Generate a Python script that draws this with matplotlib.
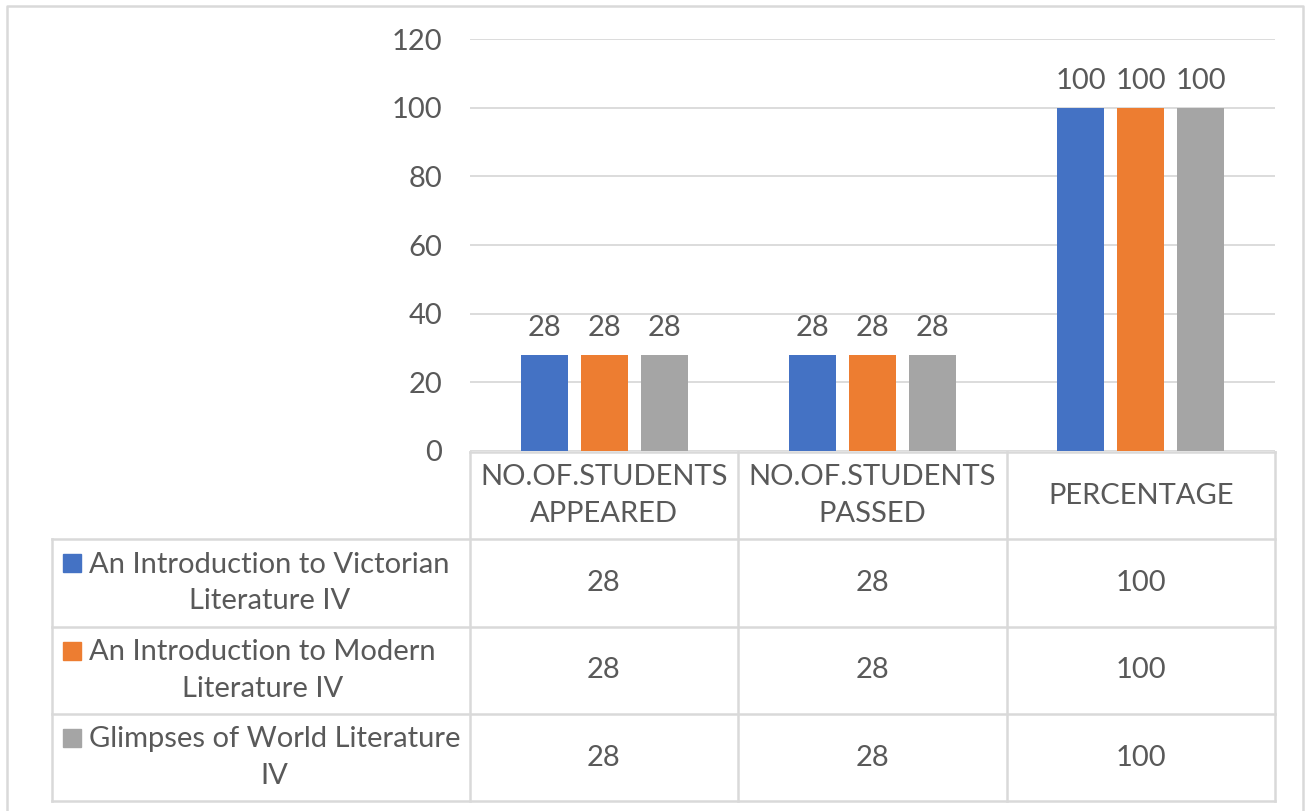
import numpy as np
import matplotlib
matplotlib.use('Agg')
import matplotlib.pyplot as plt
from matplotlib.patches import Rectangle

plt.rcParams['font.family'] = ['Lato', 'DejaVu Sans']

# data
categories = ['NO.OF.STUDENTS\nAPPEARED', 'NO.OF.STUDENTS\nPASSED', 'PERCENTAGE']
series_names = ['An Introduction to Victorian\nLiterature IV',
                'An Introduction to Modern\nLiterature IV',
                'Glimpses of World Literature\nIV']
victorian = [28, 28, 100]
modern = [28, 28, 100]
world = [28, 28, 100]
yticks = [0, 20, 40, 60, 80, 100, 120]

series = [victorian, modern, world]
colors = ['#4472C4', '#ED7D31', '#A5A5A5']
txt = '#595959'
grid = '#D9D9D9'
fs = 21

W, H = 1305, 811
fig = plt.figure(figsize=(W / 100, H / 100), dpi=100)

# plot area (pixel layout)
L, R, T, B = 470, 1275, 39, 451
ax = fig.add_axes([L / W, 1 - B / H, (R - L) / W, (B - T) / H])
x = np.arange(len(categories))
bw = 0.175
step = 0.224
for i, vals in enumerate(series):
    pos = x + (i - 1) * step
    ax.bar(pos, vals, width=bw, color=colors[i], zorder=3)
    for p, v in zip(pos, vals):
        ax.annotate(str(v), (p, v), xytext=(0, 10), textcoords='offset points',
                    ha='center', va='bottom', fontsize=fs, color=txt)
ax.set_xlim(-0.5, len(categories) - 0.5)
ax.set_ylim(0, 120)
ax.set_yticks(yticks)
ax.set_xticks([])
ax.yaxis.grid(True, color=grid, linewidth=1.3, zorder=0)
ax.tick_params(axis='y', length=0, pad=20, labelsize=fs, labelcolor=txt)
for s in ax.spines.values():
    s.set_visible(False)

# overlay for data table + frame
ov = fig.add_axes([0, 0, 1, 1], zorder=-1)
ov.set_xlim(0, W)
ov.set_ylim(H, 0)
ov.axis('off')

col_x = [52, 470, 738, 1007, 1275]
row_y = [452, 539, 627, 714, 801]
lc = dict(color=grid, linewidth=1.8)
# header row lines (no left legend cell)
ov.plot([col_x[1], col_x[4]], [row_y[0], row_y[0]], **lc)
for yy in row_y[1:]:
    ov.plot([col_x[0], col_x[4]], [yy, yy], **lc)
ov.plot([col_x[0], col_x[0]], [row_y[1], row_y[4]], **lc)
for xx in col_x[1:]:
    ov.plot([xx, xx], [row_y[0], row_y[4]], **lc)

for j, c in enumerate(categories):
    cx = (col_x[j + 1] + col_x[j + 2]) / 2
    cy = (row_y[0] + row_y[1]) / 2
    ov.text(cx, cy, c, ha='center', va='center', fontsize=fs, color=txt,
            linespacing=1.5)

for i, name in enumerate(series_names):
    cy = (row_y[i + 1] + row_y[i + 2]) / 2
    ov.text(89, cy, name, ha='left', va='center', multialignment='center',
            fontsize=fs, color=txt, linespacing=1.5)
    ov.add_patch(Rectangle((63, cy - 29), 18, 18, color=colors[i]))
    for j, v in enumerate(series[i]):
        cx = (col_x[j + 1] + col_x[j + 2]) / 2
        ov.text(cx, cy, str(v), ha='center', va='center', fontsize=fs, color=txt)

# outer chart border
ov.plot([7, 7, 1303, 1303], [815, 6, 6, 815], color=grid, linewidth=1.8)

fig.savefig('out.png', dpi=100)
